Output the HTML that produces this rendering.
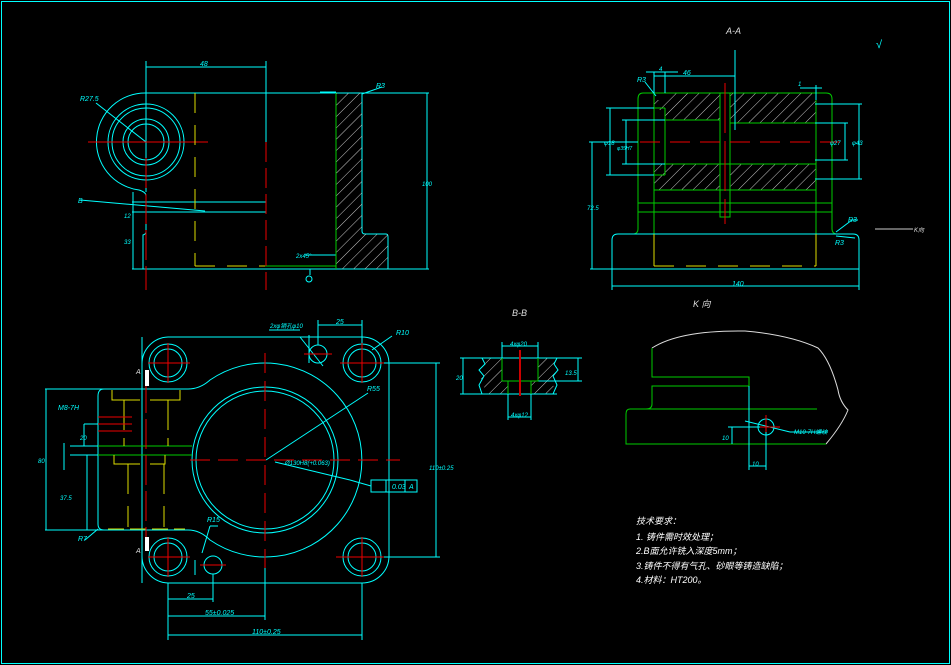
<!DOCTYPE html>
<html><head><meta charset="utf-8"><style>
html,body{margin:0;padding:0;background:#000;}
svg{display:block;}
text{font-family:"Liberation Sans","Noto Sans CJK SC",sans-serif;font-style:italic;}
</style></head><body>
<svg width="951" height="665" viewBox="0 0 951 665" xmlns="http://www.w3.org/2000/svg">
<defs>
<pattern id="h" patternUnits="userSpaceOnUse" width="8" height="8" patternTransform="rotate(45)">
<line x1="0" y1="0" x2="0" y2="8" stroke="#c8c8c8" stroke-width="1"/>
</pattern>
</defs>
<rect x="0" y="0" width="951" height="665" fill="#000"/>
<rect x="1.5" y="1.5" width="948" height="662" fill="none" stroke="#0ff" stroke-width="1"/>

<g fill="none" stroke-width="1">
<!-- ===== TOP LEFT VIEW ===== -->
<g stroke="#0ff">
<line x1="146" y1="61" x2="146" y2="192"/>
<line x1="266" y1="61" x2="266" y2="142"/>
<line x1="146" y1="67" x2="266" y2="67"/>
<line x1="146" y1="93" x2="429" y2="93"/>
<path d="M146 93 A48.7 48.7 0 0 0 139 190 Q146 192 146 196 L146 202"/>
<circle cx="146" cy="142" r="38"/><circle cx="146" cy="142" r="34"/>
<circle cx="146" cy="142" r="23"/><circle cx="146" cy="142" r="18"/>
<line x1="132" y1="202" x2="266" y2="202"/><line x1="132" y1="212" x2="266" y2="212"/>
<line x1="266" y1="202" x2="266" y2="212"/>
<path d="M146 212 L146 232 Q146 234 143 235 L143 269"/>
<line x1="132" y1="269" x2="429" y2="269"/>
<path d="M336 93 L362 93 L362 231 Q362 234 365 234 L386 234 Q388 234 388 237 L388 269"/>
<line x1="427" y1="93" x2="427" y2="269"/>
<line x1="133" y1="192" x2="133" y2="269"/>
<line x1="80" y1="200" x2="205" y2="211"/>
<line x1="96" y1="103" x2="146" y2="142"/>
<line x1="305" y1="255" x2="336" y2="255"/>
<line x1="320" y1="92" x2="336" y2="92"/>
<line x1="362" y1="94" x2="382" y2="87"/>
<line x1="310" y1="269" x2="310" y2="275"/>
<circle cx="309" cy="279" r="3"/>
</g>
<rect x="336" y="93" width="26" height="176" fill="url(#h)" stroke="none"/>
<rect x="362" y="234" width="26" height="35" fill="url(#h)" stroke="none"/>
<line x1="336" y1="93" x2="336" y2="269" stroke="#0c0"/>
<line x1="265" y1="266" x2="336" y2="266" stroke="#0c0"/>
<g stroke="#e00">
<line x1="88" y1="142" x2="208" y2="142"/>
<line x1="146" y1="158" x2="146" y2="290" stroke-dasharray="30,6"/>
<line x1="266" y1="142" x2="266" y2="290" stroke-dasharray="20,6"/>
</g>
<g stroke="#dd0" stroke-dasharray="20,12">
<line x1="195" y1="93" x2="195" y2="266"/>
<line x1="195" y1="266" x2="265" y2="266"/>
</g>

<!-- ===== A-A ===== -->
<rect x="654" y="93" width="66" height="27" fill="url(#h)" stroke="none"/>
<rect x="730" y="93" width="86" height="30" fill="url(#h)" stroke="none"/>
<rect x="654" y="164" width="66" height="26" fill="url(#h)" stroke="none"/>
<rect x="730" y="164" width="86" height="26" fill="url(#h)" stroke="none"/>
<rect x="654" y="93" width="11" height="70" fill="#000" stroke="none"/>
<rect x="654" y="100" width="11" height="10" fill="url(#h)" stroke="none"/>
<g stroke="#0c0">
<path d="M643 93 L826 93 Q832 93 832 99 L832 229 Q832 233 836 234"/>
<path d="M643 93 Q638 93 638 99 L638 229 Q638 233 634 234"/>
<line x1="654" y1="93" x2="654" y2="234"/>
<line x1="816" y1="93" x2="816" y2="234"/>
<line x1="665" y1="108" x2="665" y2="175"/>
<line x1="654" y1="108" x2="665" y2="108"/><line x1="654" y1="175" x2="665" y2="175"/>
<line x1="665" y1="120" x2="720" y2="120"/>
<line x1="730" y1="123" x2="816" y2="123"/>
<line x1="665" y1="164" x2="816" y2="164"/>
<line x1="654" y1="190" x2="816" y2="190"/>
<line x1="638" y1="203" x2="832" y2="203"/><line x1="638" y1="212" x2="832" y2="212"/>
<rect x="720" y="93" width="10" height="124"/>
</g>
<g stroke="#0ff">
<path d="M612 269 L612 240 Q612 234 618 234 L853 234 Q859 234 859 240 L859 269"/>
<line x1="590" y1="269" x2="859" y2="269"/>
<line x1="612" y1="269" x2="612" y2="290"/><line x1="859" y1="269" x2="859" y2="290"/>
<line x1="612" y1="286" x2="859" y2="286"/>
<line x1="592" y1="142" x2="592" y2="269"/>
<line x1="589" y1="142" x2="638" y2="142"/>
<line x1="610" y1="108" x2="610" y2="175"/>
<line x1="606" y1="108" x2="654" y2="108"/><line x1="606" y1="175" x2="654" y2="175"/>
<line x1="626" y1="120" x2="626" y2="164"/>
<line x1="622" y1="120" x2="665" y2="120"/><line x1="622" y1="164" x2="665" y2="164"/>
<line x1="815" y1="104" x2="862" y2="104"/><line x1="815" y1="179" x2="862" y2="179"/>
<line x1="859" y1="104" x2="859" y2="179"/>
<line x1="815" y1="123" x2="848" y2="123"/><line x1="815" y1="160" x2="848" y2="160"/>
<line x1="845" y1="123" x2="845" y2="160"/>
<line x1="735" y1="50" x2="735" y2="130"/>
<line x1="654" y1="76" x2="735" y2="76"/>
<line x1="646" y1="72" x2="678" y2="72"/>
<line x1="654" y1="72" x2="654" y2="93"/><line x1="665" y1="72" x2="665" y2="93"/>
<line x1="800" y1="88" x2="822" y2="88"/><line x1="816" y1="85" x2="816" y2="100"/>
<line x1="645" y1="82" x2="656" y2="96"/>
<line x1="836" y1="232" x2="852" y2="220"/><line x1="852" y1="220" x2="858" y2="220"/>
<line x1="836" y1="236" x2="855" y2="238"/>
<line x1="875" y1="229" x2="913" y2="229" stroke="#ccc"/>
</g>
<g stroke="#dd0">
<line x1="654" y1="234" x2="654" y2="266"/><line x1="816" y1="234" x2="816" y2="266"/>
<line x1="654" y1="266" x2="816" y2="266" stroke-dasharray="20,12"/>
</g>
<line x1="640" y1="142" x2="840" y2="142" stroke="#e00" stroke-dasharray="20,10"/>
<line x1="725" y1="83" x2="725" y2="224" stroke="#e00" stroke-dasharray="50,8"/>

<!-- ===== B-B ===== -->
<path d="M482 358 L502 358 L502 381 L508 381 L508 394 L482 394 L485 385 L479 376 L484 367 Z" fill="url(#h)" stroke="none"/>
<path d="M538 358 L557 358 L553 367 L557 376 L553 385 L557 394 L531 394 L531 381 L538 381 Z" fill="url(#h)" stroke="none"/>
<g stroke="#0ff">
<line x1="460" y1="358" x2="582" y2="358"/><line x1="460" y1="394" x2="557" y2="394"/>
<path d="M482 358 L485 364 L479 370 L484 376 L479 385 L482 394"/>
<path d="M557 358 L554 364 L558 370 L553 376 L557 385 L553 394"/>
<line x1="463" y1="358" x2="463" y2="394"/>
<line x1="502" y1="342" x2="502" y2="358"/><line x1="538" y1="342" x2="538" y2="358"/>
<line x1="502" y1="346" x2="538" y2="346"/>
<line x1="508" y1="394" x2="508" y2="420"/><line x1="531" y1="394" x2="531" y2="420"/>
<line x1="508" y1="417" x2="531" y2="417"/>
<line x1="538" y1="381" x2="582" y2="381"/><line x1="578" y1="358" x2="578" y2="381"/>
</g>
<g stroke="#0c0">
<path d="M502 358 L502 381 L538 381 L538 358"/>
<path d="M508 381 L508 394 M531 381 L531 394"/>
</g>
<line x1="520" y1="350" x2="520" y2="396" stroke="#c00" stroke-width="2"/>

<!-- ===== K VIEW ===== -->
<path d="M652 348 Q680 330 745 331 Q790 335 818 348 Q830 360 838 390 Q840 402 848 410 Q842 425 826 444" stroke="#ddd"/>
<g stroke="#0c0">
<path d="M652 348 L652 377 L749 377 L749 386 L652 386 L652 404 Q652 409 646 409 L630 409 Q626 409 626 414 L626 444 L826 444"/>
<line x1="646" y1="409" x2="817" y2="409"/>
</g>
<g stroke="#0ff">
<circle cx="766" cy="427" r="8"/>
<line x1="749" y1="386" x2="749" y2="470"/><line x1="766" y1="427" x2="766" y2="470"/>
<line x1="749" y1="466" x2="766" y2="466"/>
<line x1="728" y1="427" x2="766" y2="427"/><line x1="732" y1="427" x2="732" y2="444"/>
<line x1="745" y1="421" x2="790" y2="432"/><line x1="790" y1="432" x2="828" y2="432"/>
</g>
<line x1="760" y1="427" x2="780" y2="427" stroke="#e00"/>
<line x1="766" y1="415" x2="766" y2="432" stroke="#e00"/>

<!-- ===== PLAN VIEW ===== -->
<g stroke="#0ff">
<path d="M168 337 L362 337 A27 27 0 0 1 389 364 L389 556 A27 27 0 0 1 362 583 L168 583 A27 27 0 0 1 142 556 L142 364 A27 27 0 0 1 168 337 Z"/>
<path d="M45 389 L188 389 Q200 389 210 380 A97 97 0 1 1 210 540 Q200 530 188 530 L45 530"/>
<path d="M104 389 Q98 389 98 396 L98 524 Q98 530 104 530"/>
<circle cx="168" cy="363" r="19"/><circle cx="168" cy="363" r="14"/>
<circle cx="362" cy="363" r="19"/><circle cx="362" cy="363" r="14"/>
<circle cx="168" cy="557" r="19"/><circle cx="168" cy="557" r="14"/>
<circle cx="362" cy="557" r="19"/><circle cx="362" cy="557" r="14"/>
<circle cx="265" cy="460" r="73"/><circle cx="265" cy="460" r="69"/>
<circle cx="318" cy="354" r="9"/><circle cx="213" cy="565" r="9"/>
<line x1="142" y1="337" x2="142" y2="583"/>
<line x1="266" y1="460" x2="368" y2="393"/>
<line x1="275" y1="462" x2="350" y2="480"/><line x1="350" y1="480" x2="371" y2="486"/>
<rect x="371" y="480" width="46" height="12"/>
<line x1="386" y1="480" x2="386" y2="492"/><line x1="405" y1="480" x2="405" y2="492"/>
<line x1="362" y1="363" x2="440" y2="363"/><line x1="362" y1="557" x2="440" y2="557"/>
<line x1="436" y1="363" x2="436" y2="557"/>
<line x1="168" y1="583" x2="168" y2="640"/><line x1="362" y1="583" x2="362" y2="640"/>
<line x1="265" y1="560" x2="265" y2="620"/><line x1="213" y1="574" x2="213" y2="602"/>
<line x1="168" y1="635" x2="362" y2="635"/>
<line x1="168" y1="616" x2="265" y2="616"/>
<line x1="168" y1="599" x2="213" y2="599"/>
<line x1="318" y1="320" x2="318" y2="345"/><line x1="362" y1="320" x2="362" y2="345"/>
<line x1="318" y1="325" x2="362" y2="325"/>
<line x1="46" y1="389" x2="46" y2="530"/>
<line x1="70" y1="446" x2="142" y2="446"/><line x1="70" y1="455" x2="142" y2="455"/>
<line x1="64" y1="443" x2="64" y2="470"/>
<line x1="87" y1="455" x2="87" y2="530"/>
<line x1="84" y1="424" x2="84" y2="446"/><line x1="84" y1="424" x2="102" y2="424"/>
<line x1="98" y1="529" x2="85" y2="540"/>
<line x1="372" y1="350" x2="392" y2="336"/>
<line x1="300" y1="337" x2="323" y2="366"/><line x1="269" y1="330" x2="300" y2="330"/>
<line x1="202" y1="553" x2="210" y2="526"/><line x1="210" y1="526" x2="218" y2="526"/>
<line x1="309" y1="335" x2="309" y2="363"/>
<line x1="195" y1="560" x2="195" y2="575"/>
</g>
<g stroke="#0c0">
<line x1="98" y1="446" x2="192" y2="446"/><line x1="98" y1="455" x2="192" y2="455"/>
</g>
<g stroke="#dd0">
<path d="M112 390 L112 400 L140 400 M150 400 L180 400 L180 390"/>
<line x1="124" y1="400" x2="124" y2="446" stroke-dasharray="30,8"/>
<line x1="168" y1="400" x2="168" y2="446" stroke-dasharray="30,8"/>
<path d="M114 455 L114 464 L140 464 M150 464 L165 464 L165 455"/>
<line x1="128" y1="464" x2="128" y2="527" stroke-dasharray="30,12"/>
<line x1="164" y1="464" x2="164" y2="527" stroke-dasharray="30,12"/>
<line x1="108" y1="529" x2="185" y2="529" stroke-dasharray="16,6"/>
</g>
<g stroke="#e00">
<line x1="98" y1="417" x2="132" y2="417"/><line x1="98" y1="424" x2="132" y2="424"/><line x1="98" y1="431" x2="132" y2="431"/>
<line x1="148" y1="363" x2="190" y2="363"/><line x1="168" y1="343" x2="168" y2="383"/>
<line x1="340" y1="363" x2="384" y2="363"/><line x1="362" y1="343" x2="362" y2="383"/>
<line x1="148" y1="557" x2="190" y2="557"/><line x1="168" y1="537" x2="168" y2="577"/>
<line x1="336" y1="557" x2="384" y2="557"/><line x1="362" y1="537" x2="362" y2="577"/>
<line x1="190" y1="460" x2="400" y2="460" stroke-dasharray="20,8"/>
<line x1="265" y1="353" x2="265" y2="568" stroke-dasharray="20,8"/>
<line x1="146" y1="383" x2="146" y2="540" stroke-dasharray="30,6"/>
<line x1="304" y1="354" x2="332" y2="354"/><line x1="200" y1="565" x2="226" y2="565"/>
</g>
<rect x="145" y="370" width="4" height="16" fill="#fff" stroke="none"/>
<rect x="145" y="537" width="4" height="14" fill="#fff" stroke="none"/>
</g>

<!-- ===== TEXT ===== -->
<g fill="#0ff" font-size="7">
<text x="200" y="66">48</text>
<text x="80" y="101">R27.5</text>
<text x="376" y="88">R3</text>
<text x="78" y="203">B</text>
<text x="296" y="258" font-size="6">2x45°</text>
<text x="124" y="218" font-size="6">12</text>
<text x="124" y="244" font-size="6">33</text>
<text x="422" y="186" font-size="6">100</text>
<text x="683" y="75">46</text>
<text x="659" y="71" font-size="6">4</text>
<text x="798" y="86" font-size="6">1</text>
<text x="637" y="82">R3</text>
<text x="848" y="222">R3</text>
<text x="835" y="245">R3</text>
<text x="732" y="286">140</text>
<text x="587" y="210" font-size="6">72.5</text>
<text x="604" y="145" font-size="6">φ18</text>
<text x="617" y="150" font-size="5">φ35H7</text>
<text x="830" y="145" font-size="6">φ27</text>
<text x="852" y="145" font-size="6">φ43</text>
<text x="510" y="346" font-size="6">4xφ20</text>
<text x="511" y="417" font-size="6">4xφ12</text>
<text x="456" y="380" font-size="6">20</text>
<text x="565" y="375" font-size="6">13.5</text>
<text x="794" y="434" font-size="6">M10-7H螺纹</text>
<text x="752" y="466" font-size="6">10</text>
<text x="722" y="440" font-size="6">10</text>
<text x="270" y="328" font-size="6">2xφ销孔φ10</text>
<text x="336" y="324">25</text>
<text x="396" y="335">R10</text>
<text x="367" y="391">R55</text>
<text x="285" y="465" font-size="6">Ø130H8(+0.063)</text>
<text x="392" y="489" font-size="7">0.03</text>
<text x="409" y="489" font-size="7">A</text>
<text x="429" y="470" font-size="6">110±0.25</text>
<text x="58" y="410">M8-7H</text>
<text x="38" y="463" font-size="6">80</text>
<text x="80" y="440" font-size="6">20</text>
<text x="60" y="500" font-size="6">37.5</text>
<text x="78" y="541">R7</text>
<text x="207" y="522">R15</text>
<text x="187" y="598">25</text>
<text x="205" y="615">55±0.025</text>
<text x="252" y="634">110±0.25</text>
</g>
<g fill="#ddd" font-size="8">
<text x="726" y="34" font-size="9">A-A</text>
<text x="512" y="316" font-size="9">B-B</text>
<text x="693" y="307" font-size="9">K 向</text>
<text x="914" y="232" font-size="6">K向</text>
<text x="136" y="374" font-size="7">A</text>
<text x="136" y="553" font-size="7">A</text>
<text x="876" y="48" fill="#0ff" font-size="11">√</text>
</g>
<g fill="#fff" font-size="9" font-style="normal">
<text x="636" y="524">技术要求：</text>
<text x="636" y="540">1. 铸件需时效处理；</text>
<text x="636" y="554">2.B面允许铣入深度5mm；</text>
<text x="636" y="569">3.铸件不得有气孔、砂眼等铸造缺陷；</text>
<text x="636" y="583">4.材料：HT200。</text>
</g>
</svg>
</body></html>
